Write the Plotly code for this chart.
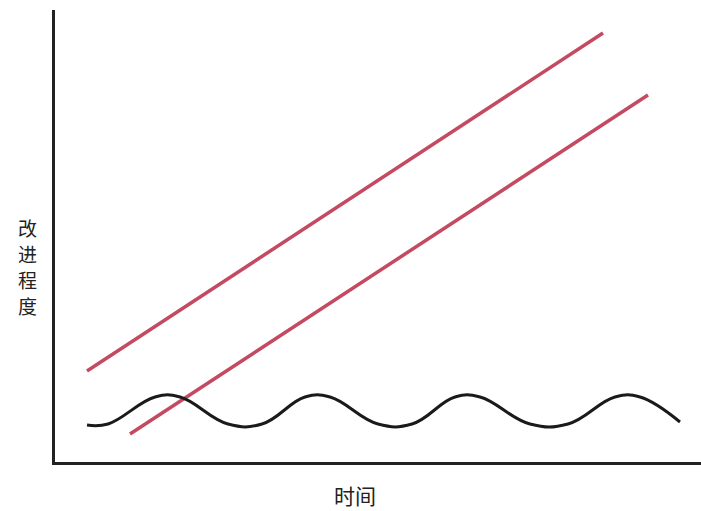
import plotly.graph_objects as go

# data in plot units (x: 0..646 across, y: 0..452 up)
upper_x = [32, 548]
upper_y = [91, 429]
lower_x = [75, 593]
lower_y = [28, 367]
wave_x = [32, 53, 100, 125, 173, 207, 250, 275, 323, 357, 400, 425, 475, 513, 560, 585, 625]
wave_y = [37, 38, 65, 65, 38, 38, 65, 65, 38, 38, 65, 65, 38, 38, 65, 65, 40]

x_label = "时间"
y_chars = ["改", "进", "程", "度"]
y_char_pos = [235, 209, 183, 157]   # plot units, top to bottom

fig = go.Figure()

fig.add_trace(go.Scatter(x=upper_x, y=upper_y, mode="lines",
                         line=dict(color="#c44a62", width=3.5)))
fig.add_trace(go.Scatter(x=lower_x, y=lower_y, mode="lines",
                         line=dict(color="#c44a62", width=3.5)))
fig.add_trace(go.Scatter(x=wave_x, y=wave_y, mode="lines",
                         line=dict(color="#1a1a1a", width=3, shape="spline", smoothing=1.2)))

annotations = [
    dict(text=x_label, xref="paper", yref="paper", x=(355 - 55) / 646, y=-33 / 452,
         showarrow=False, font=dict(size=21), xanchor="center", yanchor="middle"),
]
# vertical axis title, one character per line
for ch, yp in zip(y_chars, y_char_pos):
    annotations.append(dict(text=ch, xref="paper", yref="y", x=-28 / 646, y=yp,
                            showarrow=False, font=dict(size=19),
                            xanchor="center", yanchor="middle"))

fig.update_layout(
    width=701, height=511,
    margin=dict(l=55, r=0, t=10, b=49),
    paper_bgcolor="white", plot_bgcolor="white",
    showlegend=False,
    font=dict(family="Noto Sans CJK SC", color="#222"),
    xaxis=dict(range=[0, 646], showgrid=False, zeroline=False, showticklabels=False,
               ticks="", showline=True, linecolor="#222", linewidth=3),
    yaxis=dict(range=[0, 452], showgrid=False, zeroline=False, showticklabels=False,
               ticks="", showline=True, linecolor="#222", linewidth=3),
    annotations=annotations,
)

# drop the default body margin so the figure fills the window
fig.write_html("out.html", config={"displayModeBar": False},
               post_script="document.body.style.margin='0';document.body.style.overflow='hidden';")
